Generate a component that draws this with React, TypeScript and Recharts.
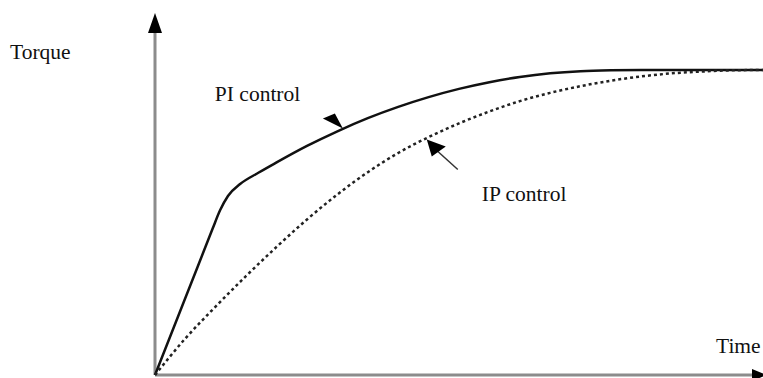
import { LineChart, Line, XAxis, YAxis, ReferenceLine, ReferenceDot } from 'recharts';

// time axis 0..10, torque normalised so the final plateau is 1.0
const piTime = [0, 0.35, 0.7, 0.95, 1.07, 1.2, 1.4, 1.7, 2, 2.5, 3, 3.5, 4, 4.5, 5, 5.5, 6, 6.5, 7, 7.5, 8, 9, 10];
const piTorque = [0, 0.177, 0.354, 0.481, 0.54, 0.587, 0.626, 0.663, 0.697, 0.751, 0.799, 0.842, 0.879, 0.911, 0.938, 0.96, 0.977, 0.989, 0.996, 0.999, 1, 1, 1];

const ipTime = [0, 0.5, 1, 1.5, 2, 2.5, 3, 3.5, 4, 4.5, 5, 5.5, 6, 6.5, 7, 7.5, 8, 8.5, 9, 9.5, 10];
const ipTorque = [0, 0.12, 0.225, 0.325, 0.42, 0.51, 0.592, 0.665, 0.728, 0.78, 0.825, 0.864, 0.898, 0.925, 0.947, 0.965, 0.979, 0.989, 0.995, 0.999, 1];

const axisLabels = { y: 'Torque', x: 'Time' };
const seriesLabels = { pi: 'PI control', ip: 'IP control' };

const piData = piTime.map((t, i) => ({ t, v: piTorque[i] }));
const ipData = ipTime.map((t, i) => ({ t, v: ipTorque[i] }));

const font = { fontFamily: '"Liberation Serif", "Times New Roman", serif', fontSize: 21.5, fill: '#111' };
const axisGray = '#8c8c8c';

type P = { cx?: number; cy?: number };

export default function App() {
    return (
        <div style={{ position: 'absolute', left: 0, top: 0, width: 763, height: 378, background: '#fff' }}>
            <LineChart width={763} height={378} margin={{ top: 9, right: 0, left: 155, bottom: 3 }}>
                <XAxis type="number" dataKey="t" domain={[0, 10]} hide allowDuplicatedCategory={false} />
                <YAxis type="number" domain={[0, 1.2]} hide />

                {/* axes */}
                <ReferenceLine segment={[{ x: 0, y: 0 }, { x: 0, y: 1.13 }]} stroke={axisGray} strokeWidth={3} />
                <ReferenceLine segment={[{ x: 0, y: 0 }, { x: 9.85, y: 0 }]} stroke={axisGray} strokeWidth={3} />
                <ReferenceDot
                    x={0}
                    y={1.187}
                    ifOverflow="visible"
                    shape={({ cx = 0, cy = 0 }: P) => (
                        <g>
                            <polygon points={`${cx},${cy} ${cx - 7},${cy + 20} ${cx + 7},${cy + 20}`} fill="#000" />
                            <text x={cx - 145} y={cy + 46} {...font}>{axisLabels.y}</text>
                        </g>
                    )}
                />
                <ReferenceDot
                    x={10}
                    y={0}
                    ifOverflow="visible"
                    shape={({ cx = 0, cy = 0 }: P) => (
                        <g>
                            <polygon points={`${cx + 4},${cy} ${cx - 11},${cy - 6} ${cx - 11},${cy + 6}`} fill="#000" />
                            <text x={cx - 47} y={cy - 22} {...font}>{axisLabels.x}</text>
                        </g>
                    )}
                />

                <Line data={piData} dataKey="v" type="monotone" stroke="#111" strokeWidth={2.5} dot={false} isAnimationActive={false} />
                <Line data={ipData} dataKey="v" type="monotone" stroke="#222" strokeWidth={2.5} strokeDasharray="3 3" dot={false} isAnimationActive={false} />

                {/* callouts */}
                <ReferenceDot
                    x={3.09}
                    y={0.808}
                    ifOverflow="visible"
                    shape={({ cx = 0, cy = 0 }: P) => (
                        <g>
                            <polygon points={`${cx},${cy} ${cx - 20},${cy - 10} ${cx - 8},${cy - 15}`} fill="#000" />
                            <text x={cx - 128} y={cy - 28} {...font}>{seriesLabels.pi}</text>
                        </g>
                    )}
                />
                <ReferenceDot
                    x={4.47}
                    y={0.772}
                    ifOverflow="visible"
                    shape={({ cx = 0, cy = 0 }: P) => (
                        <g>
                            <line x1={cx + 10} y1={cy + 11} x2={cx + 31} y2={cy + 30} stroke="#333" strokeWidth={1.5} />
                            <polygon points={`${cx},${cy} ${cx + 5},${cy + 17} ${cx + 19},${cy + 7}`} fill="#000" />
                            <text x={cx + 55} y={cy + 61} {...font}>{seriesLabels.ip}</text>
                        </g>
                    )}
                />
            </LineChart>
        </div>
    );
}
